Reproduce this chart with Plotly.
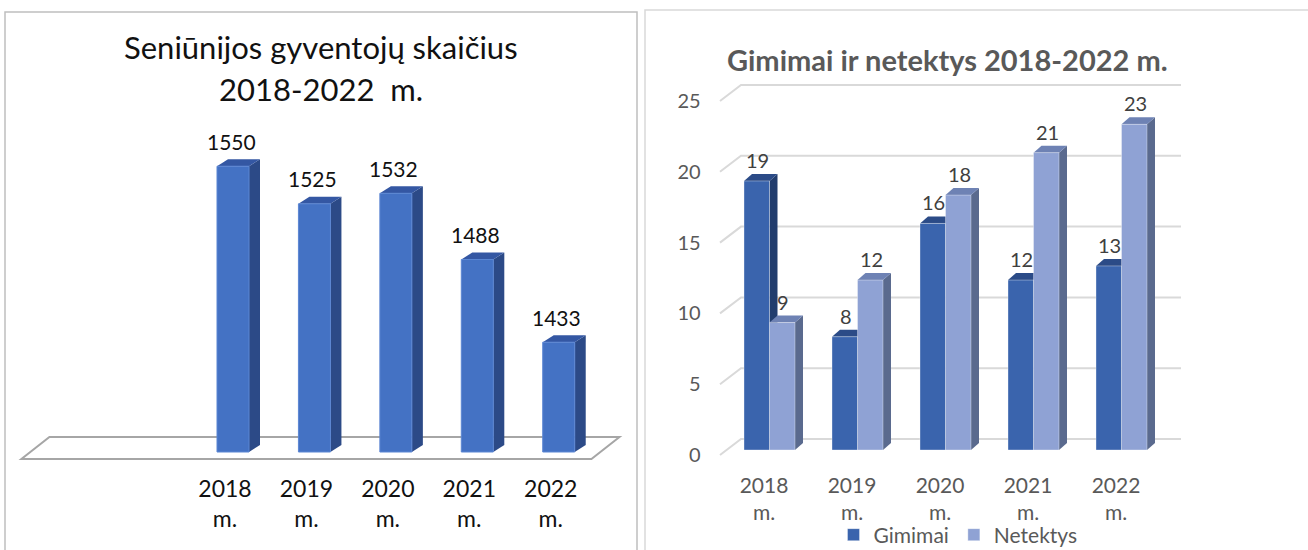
import plotly.graph_objects as go

W, H = 1308, 550
FONT = "Lato, 'Open Sans', sans-serif"

# ---------------- data ----------------
years = ["2018 m.", "2019 m.", "2020 m.", "2021 m.", "2022 m."]
residents = [1550, 1525, 1532, 1488, 1433]
births = [19, 8, 16, 12, 13]
deaths = [9, 12, 18, 21, 23]
births_name = "Gimimai"
deaths_name = "Netektys"
left_title = ["Seniūnijos gyventojų skaičius", "2018-2022  m."]
right_title = "Gimimai ir netektys 2018-2022 m."
right_ticks = [0, 5, 10, 15, 20, 25]

idx = list(range(len(years)))
tick_text = [y.replace(" ", "<br>") for y in years]


# ---------------- geometry helpers ----------------
class Panel:
    """Pixel placement of a pseudo-3D subplot (front plane = the axes)."""

    def __init__(self, px_cat0, px_step, px_v0, v0, px_per_unit, xrange, yrange):
        self.px_cat0, self.px_step = px_cat0, px_step
        self.px_v0, self.v0, self.k = px_v0, v0, px_per_unit
        self.xrange, self.yrange = xrange, yrange

    def dx(self, px):
        return px / self.px_step

    def dy(self, px):
        return px / self.k

    def xdomain(self):
        return [(self.px_cat0 + r * self.px_step) / W for r in self.xrange]

    def ydomain(self):
        return [1 - (self.px_v0 - (r - self.v0) * self.k) / H for r in self.yrange]


def path(points):
    return "M " + " L ".join(f"{x:.4f},{y:.4f}" for x, y in points) + " Z"


def open_path(points):
    return "M " + " L ".join(f"{x:.4f},{y:.4f}" for x, y in points)


def box_faces(xl, xr, bottom, top, ddx, ddy, side_col, top_col, xref, yref):
    side = dict(type="path", xref=xref, yref=yref, layer="below",
                path=path([(xr, bottom), (xr + ddx, bottom + ddy),
                           (xr + ddx, top + ddy), (xr, top)]),
                fillcolor=side_col, line=dict(width=0))
    cap = dict(type="path", xref=xref, yref=yref, layer="below",
               path=path([(xl, top), (xr, top), (xr + ddx, top + ddy),
                          (xl + ddx, top + ddy)]),
               fillcolor=top_col, line=dict(width=0))
    return [side, cap]


shapes, annotations, traces = [], [], []

# ---------------- left chart: residents ----------------
L_FLOOR = 1360
L = Panel(px_cat0=225, px_step=81.43, px_v0=459, v0=L_FLOOR, px_per_unit=1.504,
          xrange=[-2.55, 4.9], yrange=[1358, 1660])
l_w = L.dx(32)
l_off = L.dx(8) - l_w / 2
l_base = L_FLOOR + L.dy(7)
l_bdx, l_bdy = L.dx(11), L.dy(7)
l_fdx, l_fdy = L.dx(28), L.dy(22)

# floor
shapes.append(dict(type="path", xref="x", yref="y", layer="below",
                   path=path([(-2.5, L_FLOOR), (4.5, L_FLOOR),
                              (4.5 + l_fdx, L_FLOOR + l_fdy),
                              (-2.5 + l_fdx, L_FLOOR + l_fdy)]),
                   fillcolor="rgba(255,255,255,0)",
                   line=dict(color="#A6A6A6", width=2)))

traces.append(go.Bar(
    x=idx, y=[v - L_FLOOR for v in residents], base=l_base,
    width=l_w, offset=l_off, xaxis="x", yaxis="y",
    marker=dict(color="#4472C4", line=dict(color="#5B86D3", width=1)),
    showlegend=False, hoverinfo="skip"))

for i, v in enumerate(residents):
    xl = i + l_off
    xr = xl + l_w
    top = l_base + (v - L_FLOOR)
    shapes += box_faces(xl, xr, l_base, top, l_bdx, l_bdy,
                        "#2C4A87", "#3457A3", "x", "y")
    annotations.append(dict(x=xl + l_w / 2, y=top, xref="x", yref="y",
                            text=str(v), showarrow=False, yanchor="middle",
                            xanchor="center", xshift=-2, yshift=25,
                            font=dict(family=FONT, size=21, color="#111111")))

for text, ypx in zip(left_title, [47, 89]):
    annotations.append(dict(x=321 / W, y=1 - ypx / H, xref="paper", yref="paper",
                            text=text, showarrow=False, yanchor="middle",
                            xanchor="center",
                            font=dict(family=FONT, size=31, color="#111111")))

# ---------------- right chart: births and deaths ----------------
R = Panel(px_cat0=764, px_step=88, px_v0=455, v0=0, px_per_unit=14.16,
          xrange=[-0.55, 4.8], yrange=[-0.2, 30.5])
r_w = R.dx(25.5)
r_shift = R.dx(5.5)
r_base = R.dy(5)
r_bdx, r_bdy = R.dx(8), R.dy(7)
r_gdx, r_gdy = R.dx(21), R.dy(16)

for t in right_ticks:
    shapes.append(dict(type="path", xref="x2", yref="y2", layer="below",
                       path=open_path([(-0.5, t), (-0.5 + r_gdx, t + r_gdy),
                                       (4.5 + r_gdx, t + r_gdy)]),
                       line=dict(color="#D9D9D9", width=2)))

series = [
    (births_name, births, r_shift - r_w, "#3A64AD", "#223D6D", "#2B4B87"),
    (deaths_name, deaths, r_shift, "#8FA2D4", "#5A6A8E", "#6E82B4"),
]
for name, vals, off, front, side, cap in series:
    traces.append(go.Bar(
        x=idx, y=vals, base=r_base, width=r_w, offset=off,
        xaxis="x2", yaxis="y2", name=name,
        marker=dict(color=front, line=dict(color="rgba(255,255,255,0.35)", width=1)),
        hoverinfo="skip"))
    for i, v in enumerate(vals):
        xl = i + off
        xr = xl + r_w
        top = r_base + v
        shapes += box_faces(xl, xr, r_base, top, r_bdx, r_bdy, side, cap, "x2", "y2")
        annotations.append(dict(x=xl + r_w / 2, y=top, xref="x2", yref="y2",
                                text=str(v), showarrow=False, yanchor="middle",
                                xanchor="center", xshift=1, yshift=21,
                                font=dict(family=FONT, size=20, color="#404040")))

annotations.append(dict(x=947 / W, y=1 - 59 / H, xref="paper", yref="paper",
                        text=f"<b>{right_title}</b>", showarrow=False,
                        yanchor="middle", xanchor="center",
                        font=dict(family=FONT, size=29, color="#595959")))

# panel frames
shapes.append(dict(type="rect", xref="paper", yref="paper", layer="below",
                   x0=5 / W, x1=637 / W, y0=-0.05, y1=1 - 12 / H,
                   line=dict(color="#BFBFBF", width=1.5), fillcolor="rgba(0,0,0,0)"))
shapes.append(dict(type="rect", xref="paper", yref="paper", layer="below",
                   x0=645 / W, x1=1.05, y0=-0.05, y1=1 - 10 / H,
                   line=dict(color="#D9D9D9", width=1.5), fillcolor="rgba(0,0,0,0)"))

fig = go.Figure(traces)
fig.update_layout(
    width=W, height=H, autosize=False,
    margin=dict(l=0, r=0, t=0, b=0, autoexpand=False),
    paper_bgcolor="white", plot_bgcolor="rgba(0,0,0,0)",
    barmode="overlay",
    font=dict(family=FONT, color="#595959"),
    shapes=shapes, annotations=annotations,
    xaxis=dict(domain=L.xdomain(), range=L.xrange, anchor="y",
               tickvals=idx, ticktext=tick_text, ticks="",
               showgrid=False, zeroline=False, showline=False,
               tickfont=dict(family=FONT, size=23, color="#111111"),
               ticklabelstandoff=11),
    yaxis=dict(domain=L.ydomain(), range=L.yrange, anchor="x", visible=False),
    xaxis2=dict(domain=R.xdomain(), range=R.xrange, anchor="y2",
                tickvals=idx, ticktext=tick_text, ticks="",
                showgrid=False, zeroline=False, showline=False,
                tickfont=dict(family=FONT, size=21, color="#595959"),
                ticklabelstandoff=13),
    yaxis2=dict(domain=R.ydomain(), range=R.yrange, anchor="x2",
                tickvals=right_ticks, ticks="",
                showgrid=False, zeroline=False, showline=False,
                tickfont=dict(family=FONT, size=20, color="#595959"),
                ticklabelstandoff=14),
    legend=dict(orientation="h", x=958 / W, y=1 - 535 / H,
                xanchor="center", yanchor="middle",
                font=dict(family=FONT, size=21, color="#595959"),
                bgcolor="rgba(0,0,0,0)", itemwidth=30),
)

fig.write_html("out.html")
